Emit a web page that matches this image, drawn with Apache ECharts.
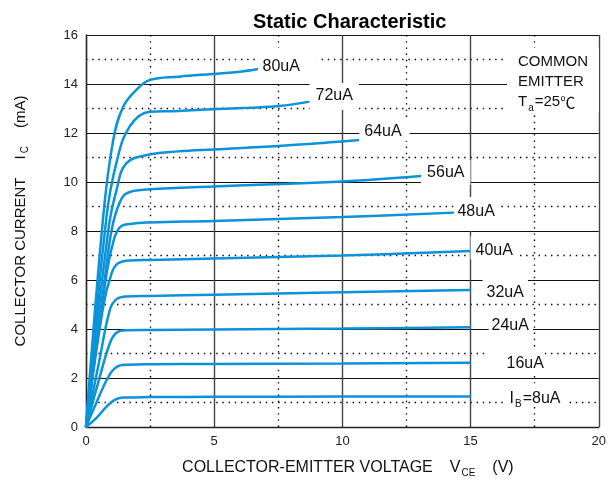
<!DOCTYPE html>
<html>
<head>
<meta charset="utf-8">
<script src="https://cdn.jsdelivr.net/npm/echarts@6/dist/echarts.min.js"></script>
<style>
  html, body { margin: 0; padding: 0; background: #fff; }
  #chart { width: 609px; height: 485px; }
</style>
</head>
<body>
<div id="chart"></div>
<script>
// Collector current I_C (mA) vs collector-emitter voltage V_CE (V), one curve per base current
const ib8  = [[0,0],[0.4,0.36],[0.8,0.83],[1.1,1.1],[1.45,1.2],[2.5,1.22],[5,1.23],[10,1.24],[15,1.24]];
const ib16 = [[0,0],[0.45,1.1],[0.87,2.05],[1.19,2.45],[1.6,2.54],[2.5,2.56],[5,2.57],[10,2.59],[15,2.62]];
const ib24 = [[0,0],[0.5,1.9],[0.93,3.42],[1.19,3.85],[1.6,3.95],[2.5,3.96],[5,3.98],[10,4.02],[15,4.07]];
const ib32 = [[0,0],[0.5,2.6],[0.93,4.78],[1.19,5.22],[1.6,5.33],[2.5,5.35],[5,5.4],[10,5.5],[15,5.59]];
const ib40 = [[0,0],[0.67,4.91],[1.0,6.28],[1.25,6.68],[1.7,6.8],[2.5,6.82],[5,6.88],[10,7.0],[15,7.18]];
const ib48 = [[0,0],[0.75,5.9],[1.05,7.5],[1.32,8.15],[1.8,8.3],[2.5,8.35],[5,8.41],[10,8.57],[14.36,8.75]];
const ib56 = [[0,0],[0.8,6.6],[1.0,8.04],[1.25,8.99],[1.58,9.54],[2.48,9.7],[5,9.82],[10,10.02],[13.07,10.24]];
const ib64 = [[0,0],[0.87,8.04],[1.19,9.67],[1.58,10.77],[2.48,11.12],[3.6,11.25],[5,11.33],[7.5,11.47],[9.96,11.65],[10.66,11.71]];
const ib72 = [[0,0],[0.8,8.58],[1.19,10.8],[1.7,12.26],[2.48,12.87],[3.6,12.9],[4.93,12.97],[6.36,13.03],[7.52,13.1],[8.72,13.28]];
const ib80 = [[0,0],[0.67,8.58],[1.06,11.7],[1.45,13.07],[2.0,13.8],[2.48,14.16],[3.64,14.3],[4.93,14.41],[6.0,14.5],[6.71,14.61]];

const curveNames = ['8uA','16uA','24uA','32uA','40uA','48uA','56uA','64uA','72uA','80uA'];
const curveData  = [ib8, ib16, ib24, ib32, ib40, ib48, ib56, ib64, ib72, ib80];
const curveLabels = ['{n|I}{s|B}{n|=8uA}','16uA','24uA','32uA','40uA','48uA','56uA','64uA','72uA','80uA'];

const xTicks = { min: 0, max: 20, interval: 5 };
const yTicks = { min: 0, max: 16, interval: 2 };

// end-label placement: text offset from the curve end, and white box padding [top, right, bottom, left]
const labelPlace = [
  { dx: 39,  dy: 1.8,  pad: [7, 5, -1, 6] },
  { dx: 36,  dy: 0.3,  pad: [7, 1, 1, 21] },
  { dx: 21,  dy: -1.3, pad: [4, 4, 0, 3] },
  { dx: 16,  dy: 2.5,  pad: [4.5, 4, 0.5, 4] },
  { dx: 5,   dy: -0.5, pad: [6.5, 5, 1, 5] },
  { dx: 3.3, dy: -1.4, pad: [6.3, 4, 11.7, 3.3] },
  { dx: 6,   dy: -3.5, pad: [4.5, 6, 4.5, 6] },
  { dx: 5,   dy: -8.3, pad: [3.7, 8, 1.3, 5] },
  { dx: 6,   dy: -5.7, pad: [5, 6, 6, 6] },
  { dx: 4.5, dy: -2.5, pad: [10.5, 17, 5.5, 4.5] }
];

const FONT = '"Liberation Sans", Arial, Helvetica, sans-serif';
const LINE_COLOR = '#0b93d9';

const series = curveData.map((d, i) => {
  const p = labelPlace[i];
  const [t, r, b, l] = p.pad;
  return {
    name: curveNames[i],
    type: 'line',
    data: d,
    smooth: 0.4,
    showSymbol: false,
    symbol: 'none',
    lineStyle: { color: LINE_COLOR, width: 2.5 },
    z: 3,
    endLabel: {
      show: true,
      formatter: () => curveLabels[i],
      distance: 0,
      align: 'left',
      verticalAlign: 'middle',
      offset: [p.dx - l, p.dy + (b - t) / 2],
      padding: p.pad,
      backgroundColor: '#fff',
      color: '#111',
      fontFamily: FONT,
      fontSize: 16,
      lineHeight: 16,
      rich: {
        n: { fontFamily: FONT, fontSize: 16, lineHeight: 16, color: '#111' },
        s: { fontFamily: FONT, fontSize: 10, lineHeight: 10, color: '#111', padding: [11, 1, 0, 1] }
      }
    }
  };
});

const chart = echarts.init(document.getElementById('chart'), null, { renderer: 'canvas' });

chart.setOption({
  animation: false,
  backgroundColor: '#fff',
  title: {
    text: 'Static Characteristic',
    left: 248,
    top: 7,
    textStyle: { fontFamily: FONT, fontSize: 20, fontWeight: 'bold', color: '#000' }
  },
  grid: { left: 86, right: 9, top: 35, bottom: 58, containLabel: false },
  xAxis: {
    type: 'value',
    min: xTicks.min, max: xTicks.max, interval: xTicks.interval,
    axisLine: { show: true, onZero: false, lineStyle: { color: '#222', width: 1.3 } },
    axisTick: { show: false },
    minorTick: { show: false, splitNumber: 2 },
    splitLine: { show: true, lineStyle: { color: '#444', width: 1.4 } },
    minorSplitLine: { show: true, lineStyle: { color: '#000', width: 1.4, type: [1.4, 4.8] } },
    axisLabel: { fontFamily: FONT, fontSize: 13, color: '#222', margin: 8 },
    name: '{g0|}{t|COLLECTOR-EMITTER VOLTAGE}{g|}{t|V}{s|CE}{g|}{t|(V)}',
    nameLocation: 'middle',
    nameGap: 33,
    nameTextStyle: {
      fontFamily: FONT, fontSize: 16, color: '#111',
      rich: {
        t: { fontFamily: FONT, fontSize: 16, lineHeight: 16, color: '#111' },
        s: { fontFamily: FONT, fontSize: 10, lineHeight: 10, color: '#111', padding: [11, 0, 0, 1] },
        g: { width: 17 },
        g0: { width: 11 }
      }
    }
  },
  yAxis: {
    type: 'value',
    min: yTicks.min, max: yTicks.max, interval: yTicks.interval,
    axisLine: { show: true, onZero: false, lineStyle: { color: '#222', width: 1.3 } },
    axisTick: { show: false },
    minorTick: { show: false, splitNumber: 2 },
    splitLine: { show: true, lineStyle: { color: '#111', width: 1.2 } },
    minorSplitLine: { show: true, lineStyle: { color: '#000', width: 1.4, type: [1.4, 4.8] } },
    axisLabel: { fontFamily: FONT, fontSize: 13, color: '#222', margin: 8 },
    name: '{g0|}{t|COLLECTOR CURRENT}{g|}{t|I}{s|C}{g|}{t|(mA)}',
    nameLocation: 'middle',
    nameRotate: 90,
    nameGap: 58,
    nameTextStyle: {
      fontFamily: FONT, fontSize: 15, color: '#111',
      rich: {
        t: { fontFamily: FONT, fontSize: 15, lineHeight: 15, color: '#111' },
        s: { fontFamily: FONT, fontSize: 10, lineHeight: 10, color: '#111', padding: [10, 0, 0, 2] },
        g: { width: 18 },
        g0: { width: 20 }
      }
    }
  },
  graphic: [
    { type: 'rect', z: 100, shape: { x: 507, y: 48, width: 92, height: 64 }, style: { fill: '#fff' } },
    { type: 'text', z: 101, style: { x: 518, y: 62, text: 'COMMON', font: '15px ' + FONT, fill: '#111', verticalAlign: 'middle' } },
    { type: 'text', z: 101, style: { x: 518, y: 82, text: 'EMITTER', font: '15px ' + FONT, fill: '#111', verticalAlign: 'middle' } },
    {
      type: 'text', z: 101,
      style: {
        x: 518, y: 102, verticalAlign: 'middle',
        text: '{n|T}{s|a}{n|=25}{c|℃}',
        rich: {
          n: { fontFamily: FONT, fontSize: 15, lineHeight: 15, fill: '#111' },
          c: { fontFamily: '"Noto Sans CJK SC", ' + FONT, fontSize: 15, lineHeight: 15, fill: '#111' },
          s: { fontFamily: FONT, fontSize: 10, lineHeight: 10, fill: '#111', padding: [12, 1, 0, 1] }
        }
      }
    }
  ],
  series: series
});
</script>
</body>
</html>
